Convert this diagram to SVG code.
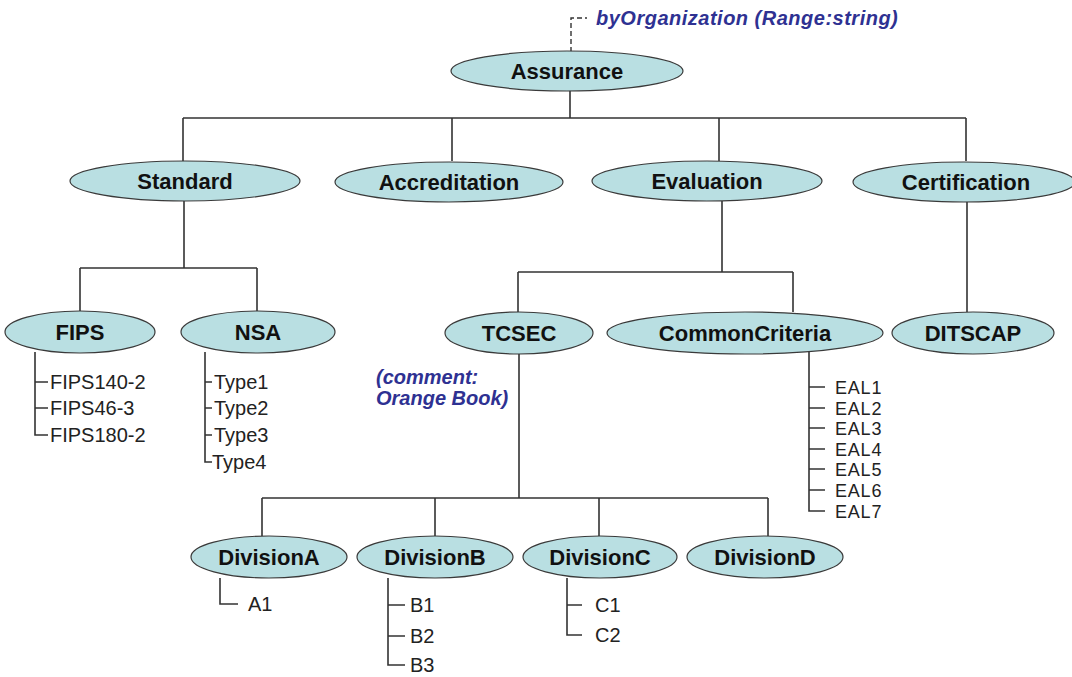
<svg xmlns="http://www.w3.org/2000/svg" width="1072" height="677" viewBox="0 0 1072 677">
  <style>
    .node ellipse { fill: #b9dfe2; stroke: #3a3a3a; stroke-width: 1.2; }
    .node text { font-family: "Liberation Sans", Arial, sans-serif; font-weight: bold; font-size: 22px; fill: #111; text-anchor: middle; }
    .edges path { fill: none; stroke: #333; stroke-width: 1.6; }
    .leaf { font-family: "Liberation Sans", Arial, sans-serif; font-size: 20px; fill: #222; }
    .eal { font-family: "Liberation Sans", Arial, sans-serif; font-size: 18px; fill: #222; letter-spacing: 0.8px; }
    .note { font-family: "Liberation Sans", Arial, sans-serif; font-weight: bold; font-style: italic; font-size: 20px; fill: #2e3192; }
    .edges path.dash { stroke-width: 1.4; stroke-dasharray: 5 3; }
  </style>

  <!-- connectors -->
  <g class="edges">
    <path class="dash" d="M571 52 V18 H587"/>
    <!-- Assurance to second level -->
    <path d="M570 90 V118 M183 118 H966 M183 118 V161 M452 118 V161 M719 118 V161 M966 118 V161"/>
    <!-- Standard -->
    <path d="M184 201 V268 M80 268 H257 M80 268 V312 M257 268 V312"/>
    <!-- Evaluation -->
    <path d="M722 201 V272 M518 272 H793 M518 272 V312 M793 272 V312"/>
    <!-- Certification -->
    <path d="M967 202 V312"/>
    <!-- TCSEC to divisions -->
    <path d="M519 354 V498 M262 498 H768 M262 498 V536 M435 498 V536 M599 498 V536 M768 498 V536"/>
    <!-- FIPS list -->
    <path d="M35 352 V435 H48 M35 382 H48 M35 408 H48"/>
    <!-- NSA list -->
    <path d="M205 352 V462 H212 M205 382 H212 M205 408 H212 M205 435 H212"/>
    <!-- CommonCriteria list -->
    <path d="M809 352 V511 H825 M809 387 H825 M809 408 H825 M809 428 H825 M809 449 H825 M809 469 H825 M809 490 H825"/>
    <!-- Division lists -->
    <path d="M220 578 V604 H238"/>
    <path d="M388 578 V665 H405 M388 605 H405 M388 636 H405"/>
    <path d="M567 578 V635 H582 M567 605 H582"/>
  </g>

  <text class="note" x="596" y="25" letter-spacing="0.5">byOrganization (Range:string)</text>
  <text class="note" x="376" y="384">(comment:</text>
  <text class="note" x="376" y="405">Orange Book)</text>

  <g id="assurance" class="node"><ellipse cx="567" cy="71" rx="116" ry="20"/><text x="567" y="79">Assurance</text></g>
  <g id="standard" class="node"><ellipse cx="185" cy="181" rx="115" ry="20"/><text x="185" y="189">Standard</text></g>
  <g id="accreditation" class="node"><ellipse cx="449" cy="182" rx="114" ry="20"/><text x="449" y="190">Accreditation</text></g>
  <g id="evaluation" class="node"><ellipse cx="707" cy="181" rx="115" ry="20"/><text x="707" y="189">Evaluation</text></g>
  <g id="certification" class="node"><ellipse cx="964" cy="182" rx="111" ry="20"/><text x="966" y="190">Certification</text></g>

  <g id="fips" class="node"><ellipse cx="80" cy="332" rx="75" ry="21"/><text x="80" y="340">FIPS</text></g>
  <g id="nsa" class="node"><ellipse cx="258" cy="332" rx="77" ry="21"/><text x="258" y="340">NSA</text></g>
  <g id="tcsec" class="node"><ellipse cx="519" cy="333" rx="74" ry="21"/><text x="519" y="341">TCSEC</text></g>
  <g id="commoncriteria" class="node"><ellipse cx="745" cy="333" rx="138" ry="21"/><text x="745" y="341">CommonCriteria</text></g>
  <g id="ditscap" class="node"><ellipse cx="973" cy="333" rx="81" ry="21"/><text x="973" y="341">DITSCAP</text></g>

  <g id="divisionA" class="node"><ellipse cx="269" cy="557" rx="78" ry="21"/><text x="269" y="565">DivisionA</text></g>
  <g id="divisionB" class="node"><ellipse cx="435" cy="557" rx="78" ry="21"/><text x="435" y="565">DivisionB</text></g>
  <g id="divisionC" class="node"><ellipse cx="600" cy="557" rx="77" ry="21"/><text x="600" y="565">DivisionC</text></g>
  <g id="divisionD" class="node"><ellipse cx="765" cy="557" rx="78" ry="21"/><text x="765" y="565">DivisionD</text></g>

  <!-- leaf items -->
  <g id="fips-items" class="leaf">
    <text x="50" y="389">FIPS140-2</text>
    <text x="50" y="415">FIPS46-3</text>
    <text x="50" y="442">FIPS180-2</text>
  </g>
  <g id="nsa-items" class="leaf">
    <text x="214" y="389">Type1</text>
    <text x="214" y="415">Type2</text>
    <text x="214" y="442">Type3</text>
    <text x="212" y="469">Type4</text>
  </g>
  <g id="eal-items" class="eal">
    <text x="835" y="394">EAL1</text>
    <text x="835" y="415">EAL2</text>
    <text x="835" y="435">EAL3</text>
    <text x="835" y="456">EAL4</text>
    <text x="835" y="476">EAL5</text>
    <text x="835" y="497">EAL6</text>
    <text x="835" y="518">EAL7</text>
  </g>
  <g id="division-items" class="leaf">
    <text x="248" y="611">A1</text>
    <text x="410" y="612">B1</text>
    <text x="410" y="643">B2</text>
    <text x="410" y="672">B3</text>
    <text x="595" y="612">C1</text>
    <text x="595" y="642">C2</text>
  </g>
</svg>
